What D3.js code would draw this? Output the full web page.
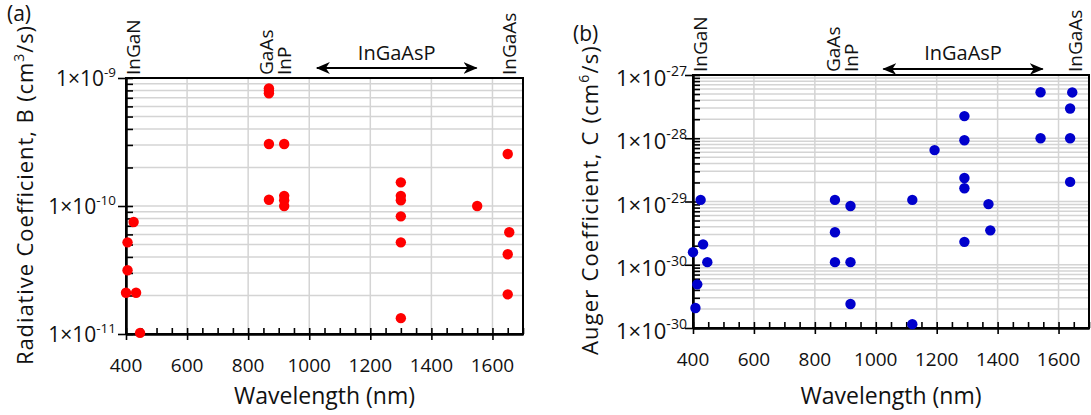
<!DOCTYPE html>
<html><head><meta charset="utf-8">
<script src="https://cdn.jsdelivr.net/npm/d3@7"></script>
<style>
body{margin:0;background:#fff}
svg{display:block}
text{font-family:"Open Sans",sans-serif;fill:#111}
</style>
</head><body><svg id="c" width="1091" height="415"></svg>
<script>
// ---------- data ----------
const xTickValues = [400, 600, 800, 1000, 1200, 1400, 1600];

// Panel (a): radiative coefficient B (cm^3/s)
const radWavelength = [400, 405, 405, 425, 433, 446,
  868, 868, 868, 868, 868,
  918, 918, 918, 918,
  1300, 1300, 1300, 1300, 1300, 1300,
  1550,
  1650, 1655, 1650, 1650];
const radValue = [2.1e-11, 3.15e-11, 5.2e-11, 7.5e-11, 2.1e-11, 1.02e-11,
  8.3e-10, 8.0e-10, 7.6e-10, 3.05e-10, 1.12e-10,
  3.05e-10, 1.2e-10, 1.11e-10, 1.0e-10,
  1.53e-10, 1.2e-10, 1.11e-10, 8.3e-11, 5.2e-11, 1.33e-11,
  1.0e-10,
  2.55e-10, 6.24e-11, 4.2e-11, 2.04e-11];
const radDecadeExp = [-11, -10, -9];
const radTickSup = ["-11", "-10", "-9"];

// Panel (b): Auger coefficient C (cm^6/s)
const augWavelength = [425, 433, 400, 447, 414, 408,
  866, 866, 866,
  917, 917, 917,
  1120, 1120, 1193,
  1291, 1291, 1291, 1291, 1291,
  1370, 1376,
  1541, 1541,
  1645, 1638, 1638, 1638];
const augValue = [1.06e-29, 2.1e-30, 1.58e-30, 1.1e-30, 4.9e-31, 2.07e-31,
  1.06e-29, 3.27e-30, 1.1e-30,
  8.5e-30, 1.1e-30, 2.4e-31,
  1.06e-29, 1.15e-31, 6.5e-29,
  2.24e-28, 9.3e-29, 2.35e-29, 1.62e-29, 2.3e-30,
  9.1e-30, 3.5e-30,
  5.33e-28, 1.0e-28,
  5.3e-28, 2.95e-28, 1.0e-28, 2.04e-29];
const augDecadeExp = [-31, -30, -29, -28, -27];
const augTickSup = ["-30", "-30", "-29", "-28", "-27"];

// material annotations
const materialNames = ["InGaN", "GaAs", "InP", "InGaAs"];
const materialWavelength = [425, 860, 920, 1655];
const rangeName = "InGaAsP";
const rangeWavelength = [1025, 1548];

// ---------- drawing ----------
const svg = d3.select("#c");
svg.append("rect").attr("width", 1091).attr("height", 415).attr("fill", "#fff");

const defs = svg.append("defs");
["s", "e"].forEach(k => {
  defs.append("marker").attr("id", "arr" + k)
    .attr("viewBox", "0 -6 14 12").attr("refX", 13).attr("refY", 0)
    .attr("markerWidth", 14).attr("markerHeight", 12).attr("markerUnits", "userSpaceOnUse")
    .attr("orient", "auto-start-reverse")
    .append("path").attr("d", "M0,-6 L14,0 L0,6 L4,0 Z").attr("fill", "#000");
});

function panel(o) {
  const g = svg.append("g");
  const x = d3.scaleLinear().domain([400, 1700]).range([o.l, o.r]);
  const lo = d3.min(o.decades), hi = d3.max(o.decades);
  const y = d3.scaleLog().domain([Math.pow(10, lo), Math.pow(10, hi)]).range([o.b, o.t]);

  const logTicks = [];
  for (let e = lo; e < hi; e++) for (let k = 1; k <= 9; k++) logTicks.push(k * Math.pow(10, e));
  logTicks.push(Math.pow(10, hi));

  // grid
  g.append("g").selectAll("line").data(logTicks).join("line")
    .attr("x1", o.l).attr("x2", o.r)
    .attr("y1", d => y(d)).attr("y2", d => y(d))
    .attr("stroke", "#d4d4d4").attr("stroke-width", 1.5);
  g.append("g").selectAll("line").data(xTickValues.slice(1)).join("line")
    .attr("x1", d => x(d)).attr("x2", d => x(d))
    .attr("y1", o.t).attr("y2", o.b)
    .attr("stroke", "#d4d4d4").attr("stroke-width", 1.5);

  // axes
  const style = sel => { sel.select(".domain").attr("stroke", "#000").attr("stroke-width", 2);
    sel.selectAll(".tick line").attr("stroke", "#000").attr("stroke-width", 1.6); };
  g.append("g").attr("transform", `translate(0,${o.b})`)
    .call(d3.axisBottom(x).tickValues(d3.range(400, 1701, 50)).tickSize(-6).tickSizeOuter(0).tickFormat(""))
    .call(style);
  g.append("g").attr("transform", `translate(0,${o.b})`)
    .call(d3.axisBottom(x).tickValues(xTickValues).tickSize(6).tickSizeOuter(0).tickFormat(""))
    .call(style);
  g.append("g").attr("transform", `translate(${o.l},0)`)
    .call(d3.axisLeft(y).tickValues(logTicks).tickSize(-7).tickSizeOuter(0).tickFormat(""))
    .call(style);
  g.append("g").attr("transform", `translate(${o.l},0)`)
    .call(d3.axisLeft(y).tickValues(o.decades.map(e => Math.pow(10, e))).tickSize(8).tickSizeOuter(0).tickFormat(""))
    .call(style);
  g.append("rect").attr("x", o.l).attr("y", o.t).attr("width", o.r - o.l).attr("height", o.b - o.t)
    .attr("fill", "none").attr("stroke", "#000").attr("stroke-width", 2);

  // x tick labels
  g.append("g").selectAll("text").data(xTickValues).join("text")
    .attr("x", d => x(d)).attr("y", o.b + 38).attr("text-anchor", "middle")
    .attr("font-size", 19).text(d => d);

  // y tick labels
  const yl = g.append("g").selectAll("text").data(o.decades).join("text")
    .attr("x", o.l - o.labGap).attr("y", d => y(Math.pow(10, d)) + o.labDy)
    .attr("text-anchor", "end").attr("font-size", o.labSize);
  yl.append("tspan").text("1×10");
  yl.append("tspan").attr("font-size", o.labSize * 0.64).attr("dy", -o.labSize * 0.45)
    .text((d, i) => o.sups[i]);

  // axis titles
  g.append("text").attr("x", (o.l + o.r) / 2).attr("y", 404).attr("text-anchor", "middle")
    .attr("font-size", 23).text("Wavelength (nm)");
  const yt = g.append("text")
    .attr("transform", `translate(${o.ytX},${o.ytY}) rotate(-90)`)
    .attr("text-anchor", "middle").attr("font-size", 22);
  yt.append("tspan").text(o.ytA);
  yt.append("tspan").attr("font-size", 14).attr("dy", -9).text(o.ytSup);
  yt.append("tspan").attr("dy", 9).text("/s)");
  const len = yt.node().getComputedTextLength();
  const nch = (o.ytA + o.ytSup + "/s)").length;
  yt.attr("letter-spacing", ((o.ytLen - len) / nch) + "px");

  // panel letter
  g.append("text").attr("x", o.letterX).attr("y", o.letterY).attr("font-size", 21).text(o.letter);

  // material labels
  g.append("g").selectAll("text").data(materialNames).join("text")
    .attr("transform", (d, i) => `translate(${x(materialWavelength[i])},${o.t - 3}) rotate(-90)`)
    .attr("dy", "0.35em").attr("font-size", 19).text(d => d);
  g.append("line")
    .attr("x1", x(rangeWavelength[0])).attr("x2", x(rangeWavelength[1]))
    .attr("y1", o.arrowY).attr("y2", o.arrowY)
    .attr("stroke", "#000").attr("stroke-width", 2)
    .attr("marker-start", "url(#arrs)").attr("marker-end", "url(#arre)");
  g.append("text").attr("x", x(d3.mean(rangeWavelength))).attr("y", 60)
    .attr("text-anchor", "middle").attr("font-size", 20).text(rangeName);

  // points
  g.append("g").selectAll("circle").data(o.vals).join("circle")
    .attr("cx", (d, i) => x(o.wl[i])).attr("cy", d => y(d)).attr("r", 5.2)
    .attr("fill", o.color);
}

panel({l: 126, r: 523, t: 78, b: 334, decades: radDecadeExp, sups: radTickSup,
  labGap: 10, labDy: 8, labSize: 21, ytX: 33, ytY: 195, ytLen: 340,
  ytA: "Radiative Coefficient, B (cm", ytSup: "3",
  letter: "(a)", letterX: 7, letterY: 21, arrowY: 68,
  wl: radWavelength, vals: radValue, color: "#ff0000"});

panel({l: 693, r: 1089, t: 75, b: 328, decades: augDecadeExp, sups: augTickSup,
  labGap: 6, labDy: 11, labSize: 22, ytX: 598, ytY: 200, ytLen: 310,
  ytA: "Auger Coefficient, C (cm", ytSup: "6",
  letter: "(b)", letterX: 573, letterY: 41, arrowY: 69,
  wl: augWavelength, vals: augValue, color: "#0000cc"});
</script>
</body></html>
